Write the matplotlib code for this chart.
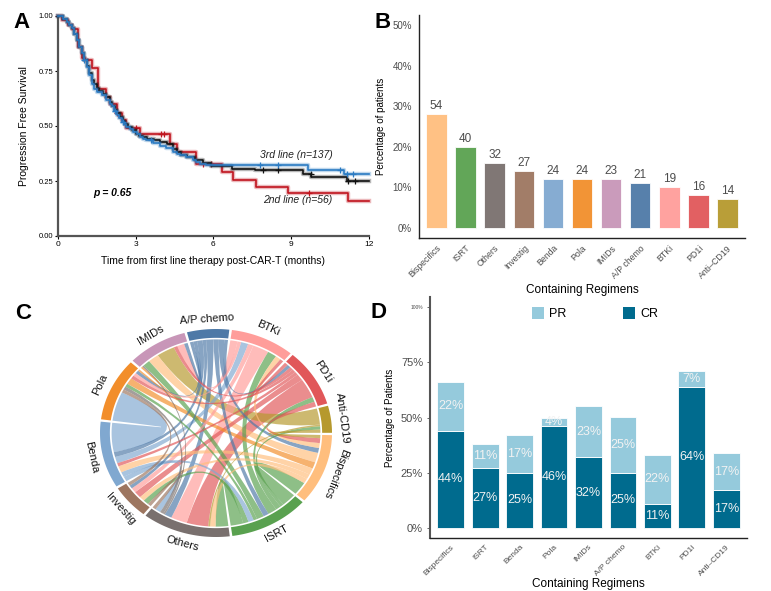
import numpy as np
import matplotlib
matplotlib.use('Agg')
import matplotlib.pyplot as plt
from matplotlib.path import Path
from matplotlib.patches import PathPatch, Polygon, Patch

plt.rcParams['font.family'] = ['Liberation Sans', 'DejaVu Sans']

# ---------------- Panel A data (Kaplan-Meier step curves) ----------------
t_blue = [0, 0.2, 0.35, 0.45, 0.54, 0.62, 0.73, 0.82, 0.92, 1.0, 1.12, 1.2, 1.31, 1.4, 1.5,
          1.69, 1.88, 2.0, 2.08, 2.18, 2.27, 2.36, 2.46, 2.56, 2.65, 2.78, 2.9, 3.05, 3.17, 3.3,
          3.42, 3.68, 3.94, 4.19, 4.45, 4.6, 4.7, 4.96, 5.22, 5.35, 5.47, 5.73, 9.64, 11.05]
s_blue = [1.0, 0.985, 0.975, 0.96, 0.944, 0.92, 0.89, 0.86, 0.83, 0.80, 0.77, 0.73, 0.69, 0.67, 0.656,
          0.64, 0.62, 0.60, 0.59, 0.57, 0.55, 0.535, 0.52, 0.51, 0.497, 0.485, 0.474, 0.462, 0.45, 0.443,
          0.436, 0.424, 0.41, 0.40, 0.383, 0.375, 0.368, 0.36, 0.345, 0.335, 0.327, 0.322, 0.30, 0.282]
t_black = [0, 0.2, 0.35, 0.45, 0.54, 0.62, 0.73, 0.82, 0.92, 1.0, 1.12, 1.2, 1.31, 1.4, 1.5,
           1.6, 1.75, 1.88, 2.0, 2.1, 2.2, 2.3, 2.4, 2.5, 2.6, 2.7, 2.85, 3.0, 3.15, 3.3,
           3.45, 3.7, 3.95, 4.2, 4.45, 4.6, 4.75, 5.0, 5.3, 5.6, 5.9, 6.7, 7.6, 9.45, 9.77, 11.17]
s_black = [1.0, 0.985, 0.975, 0.96, 0.945, 0.92, 0.89, 0.86, 0.83, 0.80, 0.775, 0.74, 0.71, 0.69, 0.675,
           0.66, 0.645, 0.63, 0.61, 0.59, 0.575, 0.56, 0.54, 0.525, 0.51, 0.495, 0.48, 0.465, 0.455, 0.45,
           0.443, 0.435, 0.428, 0.42, 0.395, 0.38, 0.37, 0.36, 0.345, 0.33, 0.32, 0.305, 0.30, 0.28, 0.268, 0.25]
t_red = [0, 0.15, 0.41, 0.55, 0.8, 0.92, 1.05, 1.31, 1.55, 1.88, 2.0, 2.27, 2.46, 2.65, 3.17,
         4.32, 4.58, 5.35, 6.35, 6.75, 7.63, 8.87, 11.2]
s_red = [1.0, 0.98, 0.96, 0.94, 0.86, 0.81, 0.80, 0.762, 0.67, 0.633, 0.60, 0.56, 0.527, 0.49, 0.464,
         0.42, 0.383, 0.327, 0.292, 0.255, 0.224, 0.197, 0.157]
cens_blue = [1.0, 2.2, 2.5, 3.6, 7.8, 8.5, 10.9, 11.15, 11.4]
cens_black = [7.9, 8.5, 9.75, 11.2, 11.45]
cens_red = [2.3, 3.0, 4.0, 4.1, 5.6, 5.9, 9.7]

# ---------------- Panel B data ----------------
b_regimens = ['Bispecifics', 'ISRT', 'Others', 'Investig', 'Benda', 'Pola', 'IMIDs',
              'A/P chemo', 'BTKi', 'PD1i', 'Anti\u2013CD19']
b_counts = [54, 40, 32, 27, 24, 24, 23, 21, 19, 16, 14]
b_pct = [28, 20, 16, 14, 12, 12, 12, 11, 10, 8, 7]
b_colors = ['#FFBE7D', '#59A14F', '#79706E', '#9D7660', '#80A8D0', '#F28E2B', '#C896B8',
            '#4E79A7', '#FF9D9A', '#E15759', '#B6992D']

# ---------------- Panel C data (chord diagram) ----------------
c_sectors = ['A/P chemo', 'BTKi', 'PD1i', 'Anti-CD19', 'Bispecifics', 'ISRT', 'Others',
             'Investig', 'Benda', 'Pola', 'IMIDs']
c_colors = ['#4E79A7', '#FF9D9A', '#E15759', '#B6992D', '#FFBE7D', '#59A14F', '#79706E',
            '#9D7660', '#80A8D0', '#F28E2B', '#C896B8']
link_src = ['A/P chemo', 'A/P chemo', 'A/P chemo', 'A/P chemo', 'A/P chemo', 'A/P chemo', 'A/P chemo', 'A/P chemo',
            'BTKi', 'BTKi', 'Bispecifics', 'PD1i', 'Benda', 'ISRT', 'BTKi', 'BTKi',
            'PD1i', 'ISRT', 'PD1i', 'PD1i', 'PD1i', 'PD1i', 'PD1i',
            'Anti-CD19', 'ISRT', 'Anti-CD19', 'Anti-CD19',
            'ISRT', 'Bispecifics', 'Pola', 'Bispecifics', 'Bispecifics', 'Bispecifics',
            'ISRT', 'ISRT', 'ISRT', 'ISRT', 'Benda',
            'Benda', 'Investig', 'Others', 'Others',
            'Benda', 'Investig', 'Pola']
link_dst = ['Others', 'ISRT', 'Bispecifics', 'Pola', 'Investig', 'PD1i', 'Benda', 'IMIDs',
            'Others', 'IMIDs', 'BTKi', 'BTKi', 'BTKi', 'BTKi', 'Pola', 'Investig',
            'Others', 'PD1i', 'Investig', 'Bispecifics', 'Pola', 'IMIDs', 'Benda',
            'IMIDs', 'Anti-CD19', 'Bispecifics', 'Others',
            'Bispecifics', 'IMIDs', 'Bispecifics', 'Benda', 'Others', 'Investig',
            'Others', 'IMIDs', 'Pola', 'Investig', 'ISRT',
            'Others', 'Others', 'Pola', 'IMIDs',
            'Pola', 'Pola', 'IMIDs']
link_w = [4, 3, 3, 2, 2, 2, 3, 2,
          9, 4, 3, 2, 4, 5, 2, 3,
          12, 3, 4, 3, 2, 2, 2,
          10, 2, 2, 1,
          8, 6, 4, 4, 3, 3,
          7, 4, 2, 3, 3,
          3, 2, 2, 1,
          18, 2, 1]

# ---------------- Panel D data ----------------
d_regimens = ['Bispecifics', 'ISRT', 'Benda', 'Pola', 'IMIDs', 'A/P chemo', 'BTKi', 'PD1i', 'Anti\u2013CD19']
d_cr = [44, 27, 25, 46, 32, 25, 11, 64, 17]
d_pr = [22, 11, 17, 4, 23, 25, 22, 7, 17]

# =====================================================================
W, H = 771, 591
fig = plt.figure(figsize=(W / 100, H / 100), dpi=100)


def ax_px(l, t, r, b):
    return fig.add_axes([l / W, 1 - b / H, (r - l) / W, (b - t) / H])


# ---------------- Panel A ----------------
axA = ax_px(57.7, 16, 369, 236)


def km(ax, t, s, cens, color, z):
    tt = list(t) + [12]
    ss = list(s) + [s[-1]]
    ax.step(tt, ss, where='post', color=color, lw=3.2, alpha=0.3, zorder=z, clip_on=False)
    ax.step(tt, ss, where='post', color=color, lw=1.2, zorder=z + 0.1, clip_on=False)
    idx = np.searchsorted(np.array(t), np.array(cens), side='right') - 1
    ax.plot(cens, np.array(s)[idx], ls='none', marker='+', ms=4.5, mew=0.9, color=color, zorder=z + 0.2)


km(axA, t_red, s_red, cens_red, '#C0141E', 2)
km(axA, t_black, s_black, cens_black, '#111111', 3)
km(axA, t_blue, s_blue, cens_blue, '#2B7BC3', 4)
axA.set_xlim(0, 12)
axA.set_ylim(0, 1)
axA.set_xticks([0, 3, 6, 9, 12])
axA.set_yticks([0, 0.25, 0.5, 0.75, 1.0])
axA.set_yticklabels(['0.00', '0.25', '0.50', '0.75', '1.00'])
axA.tick_params(axis='y', labelsize=5.5, length=2, width=0.8, pad=1)
axA.tick_params(axis='x', labelsize=6, length=2, width=0.8, pad=1.5)
for sp in ['top', 'right']:
    axA.spines[sp].set_visible(False)
for sp in ['left', 'bottom']:
    axA.spines[sp].set_color('#555555')
    axA.spines[sp].set_linewidth(1.6)
axA.set_xlabel('Time from first line therapy post-CAR-T (months)', fontsize=7.5, labelpad=6)
axA.set_ylabel('Progression Free Survival', fontsize=7.5, labelpad=7)
axA.text(9.2, 0.37, '3rd line (n=137)', fontsize=7.5, style='italic', ha='center', va='center', color='#222222')
axA.text(9.25, 0.165, '2nd line (n=56)', fontsize=7.5, style='italic', ha='center', va='center', color='#222222')
axA.text(2.1, 0.197, 'p = 0.65', fontsize=7.5, style='italic', weight='bold', ha='center', va='center')

# ---------------- Panel B ----------------
axB = ax_px(419, 15, 745, 238)
xb = np.arange(len(b_regimens))
axB.bar(xb, b_pct, width=0.7, color=b_colors, edgecolor='#FFFFFF', linewidth=0.6, alpha=0.95)
for x, p, n in zip(xb, b_pct, b_counts):
    axB.text(x, p + 0.5, str(n), ha='center', va='bottom', fontsize=8.5, color='#4D4D4D')
axB.set_xlim(-0.6, len(b_regimens) - 0.4)
axB.set_ylim(-2.5, 52.5)
axB.set_yticks([0, 10, 20, 30, 40, 50])
axB.set_yticklabels(['0%', '10%', '20%', '30%', '40%', '50%'])
axB.set_xticks(xb)
axB.set_xticklabels(b_regimens, rotation=45, ha='right', rotation_mode='anchor')
axB.tick_params(axis='y', labelsize=7, colors='#4D4D4D', length=0, pad=5)
axB.tick_params(axis='x', labelsize=6.3, colors='#4D4D4D', length=0, pad=4)
for sp in ['top', 'right']:
    axB.spines[sp].set_visible(False)
for sp in ['left', 'bottom']:
    axB.spines[sp].set_color('#222222')
    axB.spines[sp].set_linewidth(1.0)
axB.set_xlabel('Containing Regimens', fontsize=8.5, labelpad=3)
axB.set_ylabel('Percentage of patients', fontsize=7, labelpad=5)

# ---------------- Panel C (chord diagram) ----------------
cx, cy, rxp, ryp = 216, 433, 116, 104
axC = ax_px(cx - 1.3 * rxp, cy - 1.3 * ryp, cx + 1.3 * rxp, cy + 1.3 * ryp)
axC.set_xlim(-1.3, 1.3)
axC.set_ylim(-1.3, 1.3)
axC.axis('off')

n_sec = len(c_sectors)
sec_idx = {s: i for i, s in enumerate(c_sectors)}
links = [(a, b, w) for a, b, w in zip(link_src, link_dst, link_w)]
tot = np.zeros(n_sec)
for a, b, w in links:
    tot[sec_idx[a]] += w
    tot[sec_idx[b]] += w
gap = 1.3
scale = (360 - n_sec * gap) / tot.sum()
start = 104.5
sec_hi, sec_lo = [], []
ang = start
for i in range(n_sec):
    sec_hi.append(ang)
    ang -= tot[i] * scale
    sec_lo.append(ang)
    ang -= gap


def pt(a, r):
    a = np.deg2rad(a)
    return (r * np.cos(a), r * np.sin(a))


def arc(a1, a2, r, n=40):
    return [pt(a, r) for a in np.linspace(a1, a2, n)]


ends = {}
for i in range(n_sec):
    mine = []
    for li, (a, b, w) in enumerate(links):
        if sec_idx[a] == i:
            j = sec_idx[b]
        elif sec_idx[b] == i:
            j = sec_idx[a]
        else:
            continue
        k = (j - i) % n_sec
        mine.append((k, li, w))
    mine.sort(key=lambda x: -x[0])
    ang = sec_hi[i]
    for k, li, w in mine:
        ends[(li, i)] = (ang, ang - w * scale)
        ang -= w * scale

rc = 0.9
order = sorted(range(len(links)), key=lambda li: -links[li][2])
for li in order:
    a, b, w = links[li]
    ia, ib = sec_idx[a], sec_idx[b]
    a1, a2 = ends[(li, ia)]
    b1, b2 = ends[(li, ib)]
    va = arc(a1, a2, rc)
    vb = arc(b1, b2, rc)
    ctrl = (0.0, 0.0)
    verts = va + [ctrl, vb[0]] + vb[1:] + [ctrl, va[0], va[0]]
    codes = ([Path.MOVETO] + [Path.LINETO] * (len(va) - 1) + [Path.CURVE3, Path.CURVE3]
             + [Path.LINETO] * (len(vb) - 1) + [Path.CURVE3, Path.CURVE3, Path.CLOSEPOLY])
    axC.add_patch(PathPatch(Path(verts, codes), facecolor=c_colors[ia], alpha=0.68,
                            edgecolor='none', zorder=2))

for i in range(n_sec):
    outer = arc(sec_hi[i], sec_lo[i], 1.0)
    inner = arc(sec_lo[i], sec_hi[i], 0.915)
    axC.add_patch(Polygon(outer + inner, closed=True, facecolor=c_colors[i], edgecolor='none', zorder=3))
    mid = (sec_hi[i] + sec_lo[i]) / 2
    m = ((mid + 180) % 360) - 180
    rot = m - 90 if -45 < m <= 180 else m + 90
    lx, ly = pt(mid, 1.1)
    axC.text(lx, ly, c_sectors[i], rotation=rot, ha='center', va='center', fontsize=8,
             rotation_mode='anchor', color='#111111')

# ---------------- Panel D ----------------
axD = ax_px(430, 297, 747, 538)
xd = np.arange(len(d_regimens))
cr_col, pr_col = '#006B8E', '#95CADC'
axD.bar(xd, d_cr, width=0.78, color=cr_col, edgecolor='white', linewidth=0.6, label='CR')
axD.bar(xd, d_pr, bottom=d_cr, width=0.78, color=pr_col, edgecolor='white', linewidth=0.6, label='PR')
for x, c, p in zip(xd, d_cr, d_pr):
    axD.text(x, c / 2, f'{c}%', ha='center', va='center', color='#F2F2F2', fontsize=9)
    axD.text(x, c + p / 2, f'{p}%', ha='center', va='center', color='#F2F2F2', fontsize=9)
axD.set_xlim(-0.6, len(d_regimens) - 0.4)
axD.set_ylim(-4.5, 104.5)
axD.set_yticks([0, 25, 50, 75, 100])
axD.set_yticklabels(['0%', '25%', '50%', '75%', '100%'])
axD.tick_params(axis='y', labelsize=8, colors='#4D4D4D', length=2, width=0.6, pad=3)
axD.get_yticklabels()[-1].set_fontsize(3.5)
axD.set_xticks(xd)
axD.set_xticklabels(d_regimens, rotation=45, ha='right', rotation_mode='anchor')
axD.tick_params(axis='x', labelsize=6.0, colors='#4D4D4D', length=0, pad=4)
for sp in ['top', 'right']:
    axD.spines[sp].set_visible(False)
axD.spines['left'].set_color('#555555')
axD.spines['left'].set_linewidth(1.5)
axD.spines['bottom'].set_color('#222222')
axD.spines['bottom'].set_linewidth(1.0)
axD.set_xlabel('Containing Regimens', fontsize=8.5)
axD.xaxis.set_label_coords(0.5, -0.165)
axD.set_ylabel('Percentage of Patients', fontsize=7, labelpad=4)
handles = [Patch(facecolor=pr_col, label='PR'), Patch(facecolor=cr_col, label='CR')]
axD.legend(handles=handles, loc='center', bbox_to_anchor=(0.52, 0.93), ncol=2, frameon=False,
           fontsize=9, handlelength=1.0, handleheight=1.0, columnspacing=4.5, handletextpad=0.4)

# ---------------- Panel letters ----------------
for lab, x, y in [('A', 13, 12), ('B', 374, 12), ('C', 15, 303), ('D', 371, 302)]:
    fig.text(x / W, 1 - y / H, lab, fontsize=16, weight='bold', ha='left', va='top')

fig.savefig('out.png', dpi=100)
